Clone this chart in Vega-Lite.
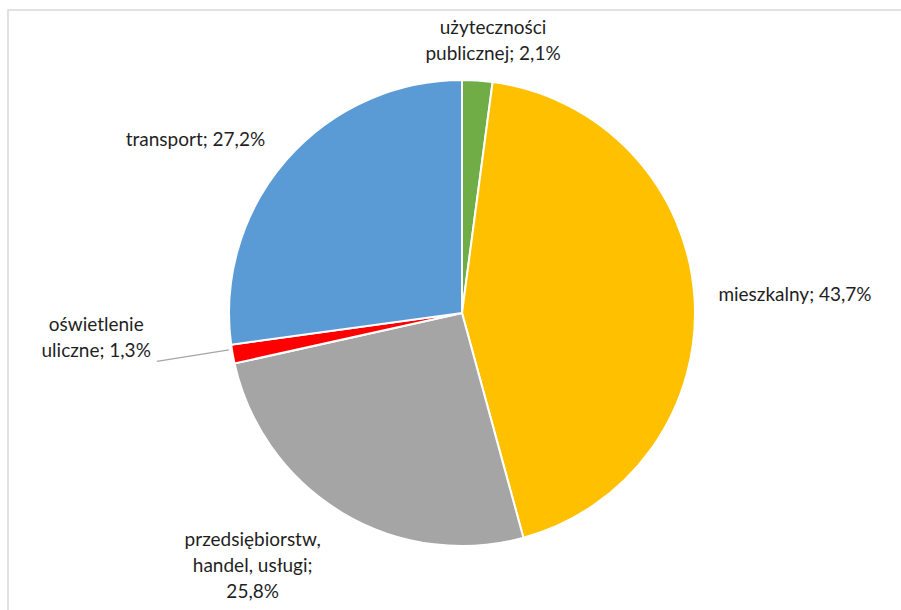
{
  "$schema": "https://vega.github.io/schema/vega-lite/v6.json",
  "width": 893,
  "height": 600,
  "autosize": {"type": "none"},
  "padding": {"left": 8, "top": 10, "right": 0, "bottom": 0},
  "background": "white",
  "config": {"view": {"stroke": null}},
  "data": {
    "values": [
      {"category": "użyteczności publicznej", "label": "użyteczności\npublicznej; 2,1%", "share": 2.1, "rank": 1},
      {"category": "mieszkalny", "label": "mieszkalny; 43,7%", "share": 43.7, "rank": 2},
      {"category": "przedsiębiorstw, handel, usługi", "label": "przedsiębiorstw,\nhandel, usługi;\n25,8%", "share": 25.8, "rank": 3},
      {"category": "oświetlenie uliczne", "label": "oświetlenie\nuliczne; 1,3%", "share": 1.3, "rank": 4},
      {"category": "transport", "label": "transport; 27,2%", "share": 27.2, "rank": 5}
    ]
  },
  "layer": [
    {
      "data": {"values": [{"frame": "chart area"}]},
      "mark": {"type": "rect", "x": 0, "y": 0, "x2": {"expr": "width+20"}, "y2": {"expr": "height+20"}, "fill": null, "stroke": "#d9d9d9", "strokeWidth": 1.5},
      "encoding": {}
    },
    {
      "mark": {"type": "arc", "outerRadius": 233, "stroke": "white", "strokeWidth": 2, "x": {"expr": "width/2+7.5"}, "y": {"expr": "height/2+3"}},
      "encoding": {
        "theta": {"field": "share", "type": "quantitative", "stack": true},
        "order": {"field": "rank", "type": "quantitative"},
        "color": {
          "field": "category",
          "type": "nominal",
          "scale": {
            "domain": ["użyteczności publicznej", "mieszkalny", "przedsiębiorstw, handel, usługi", "oświetlenie uliczne", "transport"],
            "range": ["#70AD47", "#FFC000", "#A5A5A5", "#FF0000", "#5B9BD5"]
          },
          "legend": null
        }
      }
    },
    {
      "transform": [
        {"stack": "share", "groupby": [], "sort": [{"field": "rank", "order": "ascending"}], "as": ["s0", "s1"]},
        {"filter": "datum.rank == 4"}
      ],
      "mark": {"type": "arc", "innerRadius": 236, "outerRadius": 309, "thetaOffset": -0.0206, "theta2Offset": -0.0206, "fill": null, "stroke": "#a6a6a6", "strokeWidth": 1.3, "x": {"expr": "width/2+7.5"}, "y": {"expr": "height/2+3"}},
      "encoding": {
        "theta": {"field": "s1", "type": "quantitative"},
        "theta2": {"field": "s1"}
      }
    },
    {
      "mark": {
        "type": "text",
        "font": "Lato",
        "fontSize": 19,
        "fill": "#1f1f1f",
        "lineBreak": "\n",
        "lineHeight": 26,
        "baseline": "middle",
        "x": {"expr": "width/2+7.5"},
        "y": {"expr": "height/2+3"},
        "radius": {"expr": "datum.rank == 1 ? 287 : datum.rank == 2 ? 257 : datum.rank == 3 ? 309 : datum.rank == 4 ? 366 : 262"},
        "thetaOffset": {"expr": "datum.rank == 1 ? 0.0424 : datum.rank == 2 ? -0.002 : datum.rank == 3 ? 0.2014 : datum.rank == 4 ? 0.1445 : 0.0035"},
        "align": {"expr": "datum.rank == 2 ? 'left' : datum.rank == 5 ? 'right' : 'center'"}
      },
      "encoding": {
        "theta": {"field": "share", "type": "quantitative", "stack": true},
        "order": {"field": "rank", "type": "quantitative"},
        "detail": {"field": "category", "type": "nominal"},
        "text": {"field": "label", "type": "nominal"}
      }
    }
  ]
}
